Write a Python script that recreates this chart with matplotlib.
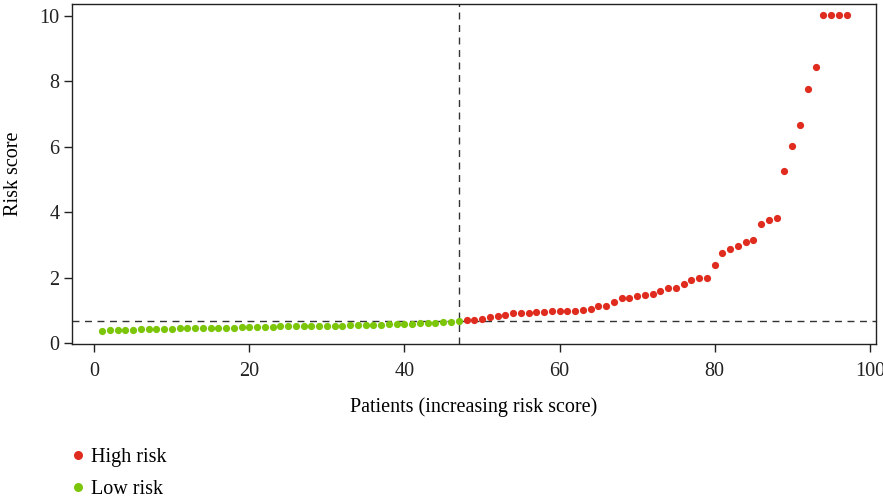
import numpy as np
import matplotlib
matplotlib.use("Agg")
import matplotlib.pyplot as plt
from matplotlib.lines import Line2D

plt.rcParams['font.family'] = ['Liberation Serif', 'DejaVu Serif']

# Risk scores (sorted)
low_risk = [0.37, 0.39, 0.40, 0.41, 0.41, 0.42, 0.42, 0.43, 0.43, 0.44,
            0.45, 0.45, 0.45, 0.46, 0.46, 0.46, 0.47, 0.47, 0.49, 0.49,
            0.49, 0.49, 0.50, 0.51, 0.51, 0.51, 0.51, 0.52, 0.52, 0.53,
            0.53, 0.53, 0.54, 0.55, 0.55, 0.56, 0.56, 0.57, 0.58, 0.58,
            0.59, 0.60, 0.62, 0.62, 0.63, 0.64, 0.67]
high_risk = [0.69, 0.71, 0.72, 0.78, 0.82, 0.86, 0.92, 0.93, 0.93, 0.95,
             0.95, 0.97, 0.97, 0.98, 0.98, 1.01, 1.04, 1.12, 1.13, 1.24,
             1.39, 1.39, 1.45, 1.46, 1.51, 1.59, 1.69, 1.69, 1.81, 1.94,
             1.98, 1.98, 2.37, 2.74, 2.88, 2.97, 3.09, 3.15, 3.64, 3.77,
             3.83, 5.25, 6.02, 6.65, 7.76, 8.43, 10.03, 10.03, 10.03, 10.03]
cutoff = 0.67

low_x = np.arange(1, len(low_risk) + 1)
high_x = np.arange(len(low_risk) + 1, len(low_risk) + len(high_risk) + 1)

red = '#E02B1F'
green = '#7CC60A'
fs = 14.5

fig = plt.figure(figsize=(8.83, 4.98), dpi=100)
ax = fig.add_axes([72 / 883, 1 - 344 / 498, (876 - 72) / 883, (344 - 4) / 498])

ax.scatter(low_x, low_risk, s=27, color=green, linewidths=0, zorder=3)
ax.scatter(high_x, high_risk, s=27, color=red, linewidths=0, zorder=3)

ax.axvline(len(low_risk), color='#333333', linestyle=(0, (5, 4)), linewidth=1.0, zorder=2)
ax.axhline(cutoff, color='#333333', linestyle=(0, (5, 4)), linewidth=1.0, zorder=2)

ax.set_xlim(-2.87, 100.8)
ax.set_ylim(-0.03, 10.36)
ax.set_xticks([0, 20, 40, 60, 80, 100])
ax.set_yticks([0, 2, 4, 6, 8, 10])
ax.tick_params(axis='both', direction='out', length=6, width=1, labelsize=fs, colors='#222222')
ax.tick_params(axis='x', pad=7)
ax.tick_params(axis='y', pad=3)
for sp in ax.spines.values():
    sp.set_linewidth(1.0)
    sp.set_color('#222222')

ax.set_xlabel('Patients (increasing risk score)', fontsize=fs, labelpad=12)
ax.set_ylabel('Risk score', fontsize=fs, labelpad=12)

handles = [Line2D([], [], marker='o', linestyle='none', markersize=6.5,
                  markerfacecolor=red, markeredgewidth=0, label='High risk'),
           Line2D([], [], marker='o', linestyle='none', markersize=6.5,
                  markerfacecolor=green, markeredgewidth=0, label='Low risk')]
fig.legend(handles=handles, loc='upper left', bbox_to_anchor=(64 / 883, 1 - 440 / 498),
           frameon=False, fontsize=fs, handlelength=0.6, handletextpad=0.35,
           labelspacing=0.62, borderaxespad=0)

fig.savefig('out.png', dpi=100)
